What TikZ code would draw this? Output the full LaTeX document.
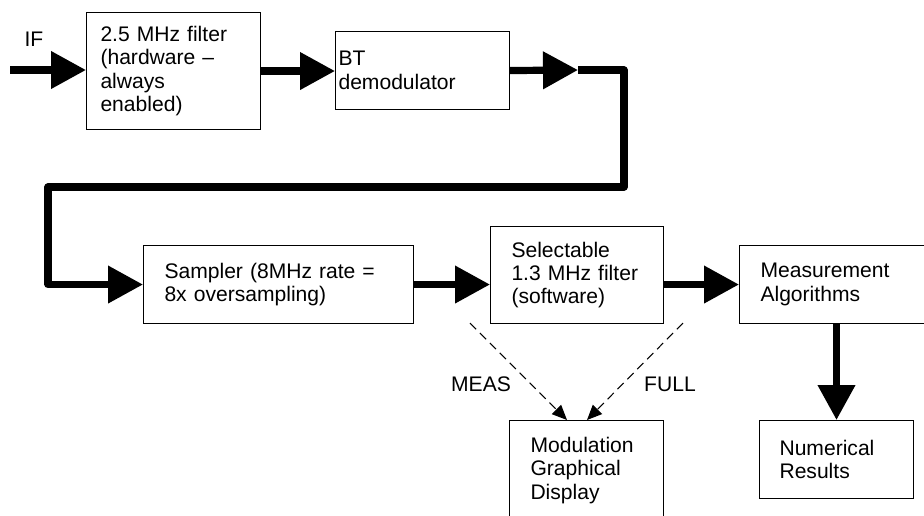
\documentclass[tikz,border=0pt]{standalone}
\usepackage{fontspec}
\setmainfont{Liberation Sans}
\usetikzlibrary{arrows.meta,positioning}

\tikzset{
  blk/.style={draw, line width=0.6pt, anchor=north west, align=left, inner ysep=0pt, font=\fontsize{12}{13.3}\selectfont},
  flow/.style={line width=4.1pt, line join=round, -{Triangle[length=0.7cm,width=0.72cm]}},
  opt/.style={line width=0.6pt, dash pattern=on 5pt off 3pt, -{Triangle[length=0.3cm,width=0.26cm]}},
  lbl/.style={font=\fontsize{12}{13.3}\selectfont}
}

\begin{document}
\begin{tikzpicture}[x=0.02cm, y=-0.02cm]
\useasboundingbox (0,0) rectangle (924,515);
\clip (0,0) rectangle (924,515);

% Processing blocks
\node[blk, text width=2.92cm, inner xsep=0.28cm, minimum height=2.34cm] (filt) at (86,12) {2.5 MHz filter\\(hardware \textendash\\always\\enabled)};
\node[blk, text width=3.36cm, inner xsep=0.06cm, minimum height=1.56cm] (bt) at (335,31) {BT\\demodulator};
\node[blk, text width=4.56cm, inner xsep=0.42cm, minimum height=1.56cm] (samp) at (143,245) {Sampler (8MHz rate =\\8x oversampling)};
\node[blk, text width=2.62cm, inner xsep=0.42cm, minimum height=1.94cm] (sel) at (490,226) {Selectable\\1.3 MHz filter\\(software)};
\node[blk, text width=3.16cm, inner xsep=0.42cm, minimum height=1.56cm] (meas) at (739,245) {Measurement\\Algorithms};
\node[blk, text width=2.24cm, inner xsep=0.42cm, minimum height=2.0cm] (mod) at (509,420) {Modulation\\Graphical\\Display};
\node[blk, text width=2.28cm, inner xsep=0.4cm, minimum height=1.56cm] (num) at (759,420) {Numerical\\Results};

% Signal path
\coordinate (in) at (10,70);
\node[lbl] (iflbl) at (34,39) {IF};
\draw[flow] (in) -- (in -| filt.west);
\draw[flow] (filt.east) -- (filt.east -| bt.west);
\coordinate (tip) at (578,70);
\coordinate (upright) at (624,187);
\coordinate (upleft) at (48,187);
\draw[flow] (bt.east) -- (tip);
\draw[flow] (tip) -| (upright) -- (upleft) |- (samp.west);
\draw[flow] (samp.east) -- (samp.east -| sel.west);
\draw[flow] (meas.west -| sel.east) -- (meas.west);
\draw[flow] (meas.south -| num.north) -- (num.north);

% Display options
\coordinate (measfrom) at (470,323);
\coordinate (fullfrom) at (683,323);
\coordinate (measto) at (567,420);
\coordinate (fullto) at (587,420);
\draw[opt] (measfrom) -- (measto);
\draw[opt] (fullfrom) -- (fullto);
\node[lbl] (measlbl) at (481,384) {MEAS};
\node[lbl] (fulllbl) at (670,384) {FULL};
\end{tikzpicture}
\end{document}
